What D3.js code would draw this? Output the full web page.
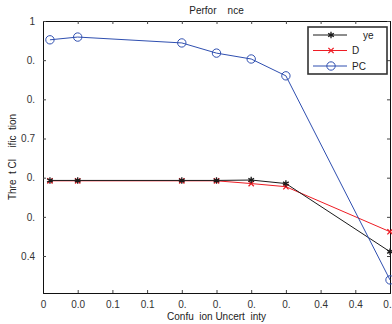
<!DOCTYPE html>
<html>
<head>
<meta charset="utf-8">
<script src="https://cdn.jsdelivr.net/npm/d3@7"></script>
<style>
  body { margin: 0; background: #fff; }
  text { font-family: "Liberation Sans", Arial, sans-serif; white-space: pre; }
</style>
</head>
<body>
<div id="chart"></div>
<script>
// data
const xValues = [0.01, 0.05, 0.2, 0.25, 0.3, 0.35, 0.5];
const bayesValues = [0.593, 0.593, 0.593, 0.593, 0.594, 0.585, 0.411];
const dValues = [0.592, 0.592, 0.592, 0.592, 0.585, 0.577, 0.462];
const pcValues = [0.952, 0.959, 0.944, 0.918, 0.903, 0.860, 0.339];

const xTicks = [0, 0.05, 0.1, 0.15, 0.2, 0.25, 0.3, 0.35, 0.4, 0.45, 0.5];
const xTickLabels = ["0", "0.0", "0.1", "0.1", "0.", "0.", "0.", "0.", "0.4", "0.4", "0."];
const yTicks = [1, 0.9, 0.8, 0.7, 0.6, 0.5, 0.4];
const yTickLabels = ["1", "0.", "0.", "0.7", "0.", "0.", "0.4"];

const seriesNames = ["    ye", "D", "PC"];

const width = 392;
const height = 324;
const marginTop = 21;
const marginRight = 2;
const marginBottom = 31;
const marginLeft = 43;

const svg = d3.select("#chart")
  .append("svg")
  .attr("width", width)
  .attr("height", height)
  .attr("viewBox", [0, 0, width, height])
  .style("font", "10px 'Liberation Sans', Arial, sans-serif");

const x = d3.scaleLinear()
  .domain([0, 0.5])
  .range([marginLeft, width - marginRight]);

const y = d3.scaleLinear()
  .domain([0.3056, 1])
  .range([height - marginBottom, marginTop]);

// Title and axis labels
svg.append("text")
  .attr("text-anchor", "middle")
  .attr("x", (x.range()[0] + x.range()[1]) / 2)
  .attr("y", 14)
  .attr("fill", "#222")
  .text("Perfor    nce");

svg.append("text")
  .attr("text-anchor", "middle")
  .attr("x", (x.range()[0] + x.range()[1]) / 2)
  .attr("y", 320)
  .attr("fill", "#222")
  .text("Confu  ion Uncert  inty");

svg.append("text")
  .attr("text-anchor", "middle")
  .attr("transform", `translate(16,${(y.range()[0] + y.range()[1]) / 2}) rotate(-90)`)
  .attr("fill", "#222")
  .text("Thre  t Cl    ific  tion");

// Axes, MATLAB style: ticks pointing inward on all four sides
const tickLen = 3;
const gx = svg.append("g")
  .attr("transform", `translate(0,${height - marginBottom})`)
  .call(d3.axisBottom(x).tickValues(xTicks).tickSize(-tickLen).tickPadding(8)
    .tickFormat((d, i) => xTickLabels[i]));
// keep the last label inside the window
gx.selectAll(".tick text").filter(d => d === 0.5).attr("dx", "-3");

svg.append("g")
  .attr("transform", `translate(0,${marginTop})`)
  .call(d3.axisTop(x).tickValues(xTicks).tickSize(-tickLen).tickFormat(""));

svg.append("g")
  .attr("transform", `translate(${marginLeft},0)`)
  .call(d3.axisLeft(y).tickValues(yTicks).tickSize(-tickLen).tickPadding(8)
    .tickFormat((d, i) => yTickLabels[i]));
svg.append("g")
  .attr("transform", `translate(${width - marginRight},0)`)
  .call(d3.axisRight(y).tickValues(yTicks).tickSize(-tickLen).tickFormat(""));

svg.selectAll(".domain").attr("stroke", "#111");
svg.selectAll(".tick line").attr("stroke", "#444");
svg.selectAll(".tick text").attr("fill", "#333").style("font-size", "10px");

// Series
const series = [
  { name: seriesNames[0], values: bayesValues, color: "#1a1a1a", marker: "star" },
  { name: seriesNames[1], values: dValues, color: "#ee1c24", marker: "x" },
  { name: seriesNames[2], values: pcValues, color: "#2f4fb0", marker: "circle" }
];

const line = d3.line()
  .x((d, i) => x(xValues[i]))
  .y(d => y(d));

const symbolFor = {
  star: d3.symbol(d3.symbolAsterisk || d3.symbolCross, 30),
  x: d3.symbol(d3.symbolTimes || d3.symbolX || d3.symbolCross, 20),
  circle: d3.symbol(d3.symbolCircle, 55)
};

function drawMarker(g, s) {
  g.append("path")
    .attr("d", symbolFor[s.marker]())
    .attr("fill", "none")
    .attr("stroke", s.color)
    .attr("stroke-width", s.marker === "circle" ? 1 : 1.3);
}

const plot = svg.append("g");
// draw D and PC first so black sits on top of red where they overlap
for (const s of [series[1], series[0], series[2]]) {
  plot.append("path")
    .datum(s.values)
    .attr("fill", "none")
    .attr("stroke", s.color)
    .attr("stroke-width", 1)
    .attr("d", line);
  s.values.forEach((v, i) => {
    const g = plot.append("g").attr("transform", `translate(${x(xValues[i])},${y(v)})`);
    drawMarker(g, s);
  });
}

// Legend
const legend = svg.append("g").attr("transform", "translate(308,27)");
legend.append("rect")
  .attr("width", 79)
  .attr("height", 47)
  .attr("fill", "#fff")
  .attr("stroke", "#333")
  .attr("stroke-width", 1.6);

series.forEach((s, i) => {
  const row = legend.append("g").attr("transform", `translate(0,${8 + i * 15.5})`);
  row.append("line")
    .attr("x1", 5).attr("x2", 39)
    .attr("stroke", s.color)
    .attr("stroke-width", 1);
  drawMarker(row.append("g").attr("transform", "translate(23,0)"), s);
  row.append("text")
    .attr("x", 44)
    .attr("dy", "0.35em")
    .attr("fill", "#222")
    .text(s.name);
});
</script>
</body>
</html>
